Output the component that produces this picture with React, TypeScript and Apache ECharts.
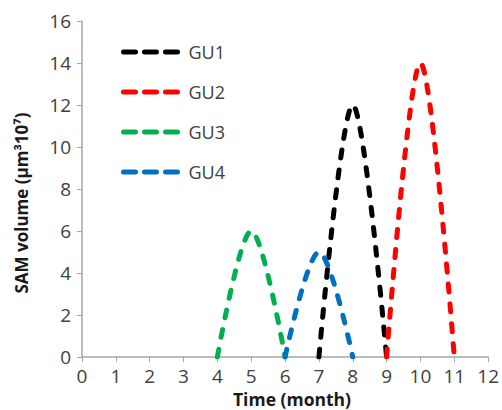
import React, { useEffect, useRef } from "react";
import * as echarts from "echarts";

const months = [0, 1, 2, 3, 4, 5, 6, 7, 8, 9, 10, 11, 12];
const seriesNames = ["GU1", "GU2", "GU3", "GU4"];
const gu1 = [null, null, null, null, null, null, null, 0, 12, 0, null, null, null];
const gu2 = [null, null, null, null, null, null, null, null, null, 0, 14, 0, null];
const gu3 = [null, null, null, null, 0, 6, 0, null, null, null, null, null, null];
const gu4 = [null, null, null, null, null, null, 0, 5, 0, null, null, null, null];
const colors = ["#000000", "#ff0000", "#00b050", "#0070c0"];
const xTitle = "Time (month)";
const yTitle = "SAM volume (µm³10⁷)";

export default function App() {
  const ref = useRef<HTMLDivElement>(null);
  useEffect(() => {
    if (!ref.current) return;
    const chart = echarts.init(ref.current, null, { renderer: "svg" });
    const all = [gu1, gu2, gu3, gu4];
    const font = "'Open Sans', 'Liberation Sans', sans-serif";
    chart.setOption({
      animation: false,
      backgroundColor: "#ffffff",
      grid: { left: 82, right: 13, top: 21, bottom: 53 },
      legend: {
        left: 116,
        top: 36,
        orient: "vertical",
        itemGap: 18,
        itemWidth: 60,
        itemHeight: 20,
        itemStyle: { opacity: 0 },
        lineStyle: { width: 5, type: [12, 9], cap: "round" },
        textStyle: { fontFamily: font, fontSize: 18, color: "#404040", lineHeight: 22 },
        data: seriesNames,
      },
      graphic: [
        {
          type: "text",
          x: 292,
          y: 399,
          style: {
            text: xTitle,
            fontFamily: font,
            fontSize: 17.5,
            fontWeight: "bold",
            fill: "#1a1a1a",
            align: "center",
            verticalAlign: "middle",
          },
        },
        {
          type: "text",
          x: 21,
          y: 203,
          rotation: Math.PI / 2,
          style: {
            text: yTitle,
            fontFamily: font,
            fontSize: 17,
            fontWeight: "bold",
            fill: "#1a1a1a",
            align: "center",
            verticalAlign: "middle",
          },
        },
      ],
      xAxis: {
        type: "value",
        min: 0,
        max: 12,
        interval: 1,
        axisLine: { lineStyle: { color: "#a6a6a6", width: 1.5 } },
        axisTick: { show: true, length: 5, lineStyle: { color: "#a6a6a6" } },
        axisLabel: { fontFamily: font, fontSize: 19, color: "#404040", margin: 9 },
        splitLine: { show: false },
      },
      yAxis: {
        type: "value",
        min: 0,
        max: 16,
        interval: 2,
        axisLine: { show: true, lineStyle: { color: "#a6a6a6", width: 1.5 } },
        axisTick: { show: true, length: 5, lineStyle: { color: "#a6a6a6" } },
        axisLabel: { fontFamily: font, fontSize: 19, color: "#404040", margin: 11 },
        splitLine: { show: false },
      },
      series: seriesNames.map((name, i) => ({
        name,
        type: "line",
        smooth: 0.33,
        symbol: "none",
        connectNulls: false,
        color: colors[i],
        lineStyle: { color: colors[i], width: 5, type: [8, 12], cap: "round" },
        data: months.map((m, j) => [m, all[i][j]]),
      })),
    });
    return () => chart.dispose();
  }, []);
  return <div ref={ref} style={{ width: 502, height: 410, position: "absolute", left: 0, top: 0 }} />;
}
